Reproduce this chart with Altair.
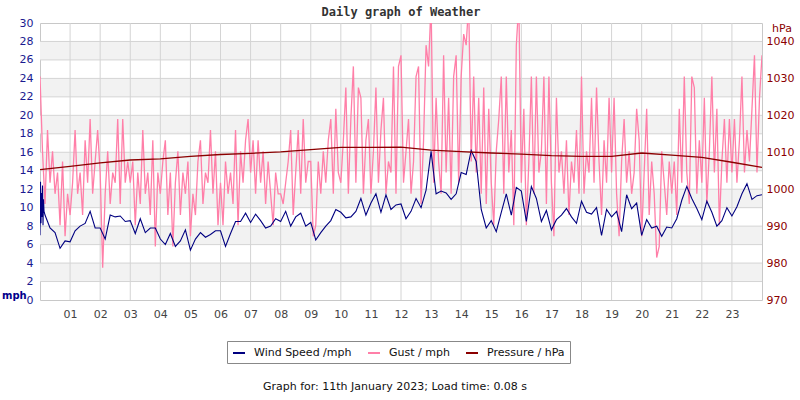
import altair as alt
import pandas as pd

# ---------------- data ----------------
hour_ticks = list(range(1, 24))
mph_ticks = list(range(0, 31, 2))
hpa_ticks = list(range(970, 1041, 10))
band_lows = [2, 6, 10, 14, 18, 22, 26]

series_names = ["Wind Speed /mph", "Gust / mph", "Pressure / hPa"]
series_colors = ["#000080", "#ff7fa8", "#8b0000"]

# wind speed, first ten minutes (1-minute readings)
wind_first10 = [7.0, 12.8, 8.3, 11.6, 9.0, 12.4, 8.1, 10.9, 9.6, 9.4]
# wind speed, every 10 minutes from 00:10 to 24:00
wind_10min = [
    9.2, 7.8, 7.3, 5.6, 6.4, 6.3, 7.5, 8.0, 8.3, 9.6,
    7.8, 7.8, 6.6, 9.2, 9.0, 9.1, 8.5, 8.6, 7.2, 8.8,
    7.3, 7.8, 7.8, 6.6, 6.0, 7.2, 5.8, 6.4, 7.6, 5.4,
    6.6, 7.3, 6.8, 7.1, 7.5, 7.5, 5.8, 7.2, 8.5, 8.5,
    9.4, 8.4, 9.3, 8.6, 7.8, 8.0, 8.8, 8.5, 9.6, 8.0,
    9.0, 9.4, 8.0, 8.4, 6.5, 7.3, 8.0, 8.6, 9.8, 9.5,
    8.9, 9.0, 9.6, 11.0, 9.2, 10.5, 11.5, 9.5, 11.4, 9.8,
    10.3, 10.4, 8.8, 9.6, 11.0, 10.0, 11.9, 16.1, 11.5, 11.8,
    11.6, 10.9, 11.5, 13.8, 13.6, 16.2, 15.0, 9.8, 7.8, 8.6,
    7.4, 9.5, 11.5, 9.2, 12.2, 11.8, 8.5, 12.3, 11.0, 8.5,
    9.7, 7.6, 8.7, 9.2, 9.9, 9.0, 8.3, 10.7, 9.5, 9.3,
    10.0, 7.0, 9.8, 9.0, 9.6, 7.4, 11.4, 9.9, 10.5, 7.0,
    8.7, 7.8, 8.0, 6.9, 7.9, 7.8, 8.8, 10.8, 12.3, 11.0,
    9.9, 8.7, 10.7, 9.5, 8.0, 8.6, 10.0, 9.1, 10.1, 11.5,
    12.6, 10.9, 11.3, 11.4,
]

# gusts, every 5 minutes, one row per hour, plus the 24:00 reading
gust_5min = [
    [24.2, 16.1, 10.4, 18.4, 12.7, 16.1, 11.5, 13.8, 8.1, 15.0, 6.9, 11.5],
    [9.2, 12.7, 18.4, 11.5, 13.8, 9.2, 17.3, 12.7, 19.6, 11.5, 15.0, 18.4],
    [13.8, 3.5, 11.5, 16.1, 10.4, 13.8, 12.7, 19.6, 10.4, 19.6, 12.7, 15.0],
    [12.7, 15.0, 8.1, 13.8, 10.4, 18.4, 11.5, 13.8, 9.2, 17.3, 5.8, 13.8],
    [11.5, 15.0, 17.3, 9.2, 13.8, 5.8, 12.7, 16.1, 9.2, 13.8, 11.5, 15.0],
    [6.9, 11.5, 9.2, 15.0, 17.3, 10.4, 13.8, 12.7, 18.4, 11.5, 16.1, 8.1],
    [12.7, 8.1, 15.0, 11.5, 13.8, 10.4, 18.4, 8.1, 16.1, 12.7, 17.3, 19.6],
    [13.8, 17.3, 11.5, 17.3, 12.7, 16.1, 10.4, 15.0, 11.5, 8.1, 13.8, 11.5],
    [11.5, 10.4, 12.7, 15.0, 18.4, 9.2, 13.8, 18.4, 11.5, 19.6, 12.7, 15.0],
    [15.0, 6.9, 8.1, 15.0, 11.5, 16.1, 12.7, 17.3, 19.6, 11.5, 20.7, 13.8],
    [12.7, 17.3, 23.0, 11.5, 19.6, 25.3, 12.7, 23.0, 21.9, 11.5, 17.3, 19.6],
    [11.5, 16.1, 23.0, 12.7, 18.4, 21.9, 11.5, 15.0, 13.8, 25.3, 11.5, 25.3],
    [26.5, 12.7, 16.1, 19.6, 11.5, 15.0, 24.2, 25.3, 10.4, 17.3, 27.6, 25.3],
    [32.2, 12.7, 21.9, 15.0, 11.5, 26.5, 13.8, 21.9, 11.5, 24.2, 26.5, 12.7],
    [24.2, 28.8, 27.6, 32.2, 15.0, 24.2, 13.8, 21.9, 11.5, 23.0, 10.4, 20.7],
    [12.7, 8.1, 16.1, 19.6, 24.2, 11.5, 24.2, 13.8, 18.4, 8.1, 27.6, 32.2],
    [12.7, 20.7, 8.1, 15.0, 24.2, 11.5, 24.2, 13.8, 16.1, 24.2, 10.4, 24.2],
    [12.7, 6.9, 21.9, 13.8, 16.1, 11.5, 17.3, 9.2, 15.0, 12.7, 18.4, 11.5],
    [24.2, 11.5, 16.1, 13.8, 21.9, 12.7, 23.0, 15.0, 9.2, 17.3, 12.7, 21.9],
    [13.8, 21.9, 11.5, 6.9, 15.0, 19.6, 12.7, 16.1, 11.5, 13.8, 20.7, 17.3],
    [6.9, 13.8, 20.7, 9.2, 15.0, 11.5, 4.6, 5.8, 16.1, 12.7, 9.2, 15.0],
    [11.5, 15.0, 9.2, 20.7, 12.7, 24.2, 13.8, 10.4, 24.2, 23.0, 11.5, 17.3],
    [12.7, 21.9, 10.4, 16.1, 24.2, 13.8, 20.7, 8.1, 15.0, 19.6, 12.7, 19.6],
    [13.8, 19.6, 12.7, 17.3, 24.2, 13.8, 18.4, 15.0, 20.7, 26.5, 13.8, 21.9],
    [26.5],
]

# pressure, hourly 00:00 .. 24:00
pressure_hourly = [
    1005.3, 1006.2, 1007.1, 1007.9, 1008.2, 1008.9, 1009.4, 1009.7, 1010.1,
    1010.7, 1011.3, 1011.3, 1011.4, 1010.6, 1010.2, 1009.8, 1009.5, 1009.1,
    1008.9, 1008.9, 1009.8, 1009.2, 1008.6, 1007.3, 1005.9,
]

title_text = "Daily graph of Weather"
footer_text = "Graph for: 11th January 2023; Load time: 0.08 s"

# ---------------- frames ----------------
wind_vals = wind_first10 + wind_10min
wind_t = [m / 60 for m in range(len(wind_first10))] + [
    (10 + 10 * i) / 60 for i in range(len(wind_10min))
]
wind_df = pd.DataFrame({"t": wind_t, "v": wind_vals, "series": series_names[0]})

gust_vals = [g for row in gust_5min for g in row]
gust_df = pd.DataFrame(
    {"t": [5 * i / 60 for i in range(len(gust_vals))], "v": gust_vals, "series": series_names[1]}
)
pres_df = pd.DataFrame(
    {"t": list(range(len(pressure_hourly))), "p": pressure_hourly, "series": series_names[2]}
)
bands_df = pd.DataFrame({"lo": band_lows, "hi": [b + 2 for b in band_lows]})
vgrid_df = pd.DataFrame({"h": hour_ticks})
hgrid_df = pd.DataFrame({"m": mph_ticks[1:-1]})
one = pd.DataFrame({"a": [0]})

W, H = 722, 277
x_scale = alt.Scale(domain=[0, 24], nice=False, zero=False)
y_mph = alt.Scale(domain=[0, 30], nice=False, zero=True)
y_hpa = alt.Scale(domain=[970, 1045], nice=False, zero=False)
color_scale = alt.Scale(domain=series_names, range=series_colors)

x_axis = alt.Axis(
    values=hour_ticks, format="02d", grid=False, ticks=False, domain=False,
    labelColor="#444444", labelFontSize=11, labelFont="DejaVu Sans",
    labelPadding=8, title=None,
)
left_axis = alt.Axis(
    values=mph_ticks, grid=False, ticks=False, domain=False,
    labelColor="#1a1a90", labelFontSize=11, labelFont="DejaVu Sans",
    labelPadding=7, title=None,
)
right_axis = alt.Axis(
    orient="right", values=hpa_ticks, format="d", grid=False, ticks=False, domain=False,
    labelColor="#8b0000", labelFontSize=11, labelFont="DejaVu Sans",
    labelPadding=4, title=None,
)
legend = alt.Legend(
    orient="none", legendX=187, legendY=318, direction="horizontal", title=None,
    symbolType="stroke", symbolSize=144, symbolStrokeWidth=2,
    labelFontSize=11, labelFont="DejaVu Sans", labelColor="#111111",
    labelOffset=8, columnPadding=12, padding=5,
    strokeColor="#888888", fillColor="white", labelLimit=0,
)
X = lambda f: alt.X(f, type="quantitative", scale=x_scale, axis=x_axis)
color = alt.Color("series:N", scale=color_scale, legend=legend)

bands = alt.Chart(bands_df).mark_rect(color="#f2f2f2").encode(
    x=alt.value(0), x2=alt.value(W),
    y=alt.Y("lo:Q", scale=y_mph, axis=left_axis), y2="hi:Q",
)
vgrid = alt.Chart(vgrid_df).mark_rule(color="#d4d4d4", strokeWidth=1).encode(x=X("h"))
hgrid = alt.Chart(hgrid_df).mark_rule(color="#d4d4d4", strokeWidth=1).encode(
    y=alt.Y("m:Q", scale=y_mph, axis=left_axis)
)
gust = alt.Chart(gust_df).mark_line(clip=True, strokeWidth=1.3).encode(
    x=X("t"), y=alt.Y("v:Q", scale=y_mph, axis=left_axis), color=color,
)
wind = alt.Chart(wind_df).mark_line(clip=True, strokeWidth=1.1).encode(
    x=X("t"), y=alt.Y("v:Q", scale=y_mph, axis=left_axis), color=color,
)
pres = alt.Chart(pres_df).mark_line(clip=True, strokeWidth=1.3).encode(
    x=X("t"), y=alt.Y("p:Q", scale=y_hpa, axis=right_axis), color=color,
)

def label(txt, x, y, **kw):
    return alt.Chart(one).mark_text(**kw).encode(
        x=alt.value(x), y=alt.value(y), text=alt.value(txt)
    )

mph_lbl = label("mph", -38, 273, font="DejaVu Sans", fontSize=10, fontWeight="bold",
                color="#00008b", align="left", baseline="middle")
hpa_lbl = label("hPa", 742, 6, font="DejaVu Sans", fontSize=11,
                color="#8b0000", align="center", baseline="middle")
title_lbl = label(title_text, 361, -11, font="DejaVu Sans Mono", fontSize=12,
                  fontWeight="bold", color="#333333", align="center", baseline="middle")
footer_lbl = label(footer_text, 355, 364, font="DejaVu Sans", fontSize=11,
                   color="#111111", align="center", baseline="middle")

mph_layer = alt.layer(bands, vgrid, hgrid, gust, wind)
chart = (
    alt.layer(mph_layer, pres, mph_lbl, hpa_lbl, title_lbl, footer_lbl)
    .resolve_scale(y="independent")
    .properties(
        width=W, height=H,
        padding={"left": 40, "top": 23, "right": 38, "bottom": 100},
        autosize=alt.AutoSizeParams(type="none"),
        background="white",
    )
    .configure_view(stroke="#c8c8c8", strokeWidth=1)
)

chart.save("out.html", embed_options={"renderer": "svg", "actions": False})
